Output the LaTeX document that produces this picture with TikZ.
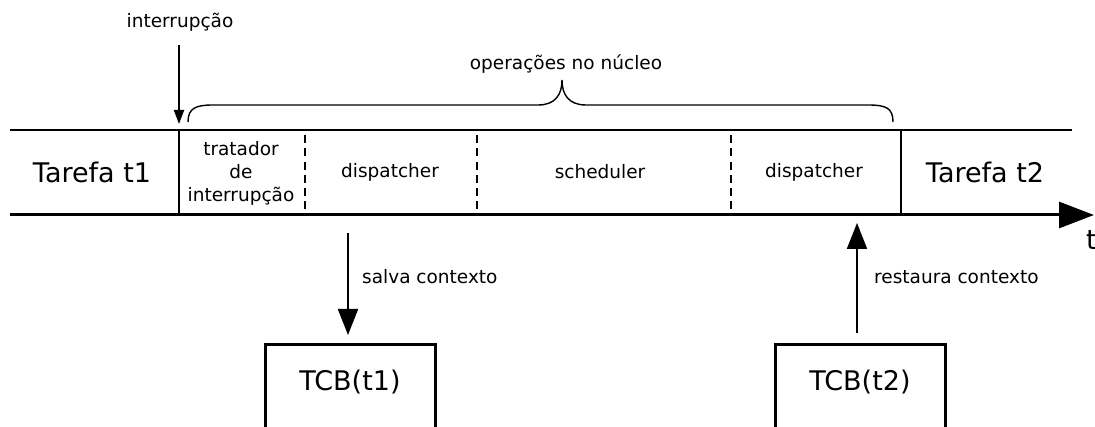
\documentclass[tikz,border=0pt]{standalone}
\usepackage{fontspec}
\setmainfont{DejaVu Sans}
\usetikzlibrary{arrows.meta}
\begin{document}
\begin{tikzpicture}[x=1pt,y=-1pt,
  small/.style={font=\fontsize{18.5}{23}\selectfont, inner sep=0pt},
  big/.style={font=\fontsize{27}{32}\selectfont, inner sep=0pt},
  segline/.style={line width=2pt, dash pattern=on 8pt off 5.3pt},
  tcbbox/.style={draw, line width=3pt, anchor=north, minimum width=170pt, minimum height=120pt},
  bigarrow/.style={line width=2pt, -{Triangle[length=26pt,width=20pt]}},
  smallarrow/.style={line width=2pt, -{Triangle[length=14pt,width=10pt]}}]
\useasboundingbox (0,0) rectangle (1095,427);

% timeline frame
\coordinate (tl) at (10,130);
\coordinate (ks) at (179,130);
\coordinate (ke) at (901,130);
\coordinate (tr) at (1072,130);
\coordinate (bl) at (10,215);
\coordinate (kbs) at (179,215);
\coordinate (kbe) at (901,215);
\coordinate (axisend) at (1094,215);
\draw[line width=1.3pt] (tl) -- (ks);
\draw[line width=2.2pt] (ks) -- (ke);
\draw[line width=1.3pt] (ke) -- (tr);
\draw[line width=3pt, -{Triangle[length=35pt,width=26pt]}] (bl) -- (axisend);
\draw[line width=2.7pt] (ks) -- (kbs);
\draw[line width=2pt] (ke) -- (kbe);

% dashed separators between kernel phases
\foreach \x/\n in {305/a,477/b,731/c} {
  \coordinate (d\n top) at (\x,135);
  \coordinate (d\n bot) at (\x,214);
  \draw[segline] (d\n top) -- (d\n bot);
}

% phase labels
\node[big] (t1) at (92,172) {Tarefa t1};
\node[big] (t2) at (985,172) {Tarefa t2};
\node[small, align=center] (trat) at (241,173) {tratador\\de\\interrupção};
\node[small] (disp1) at (390,172) {dispatcher};
\node[small] (sched) at (600,172) {scheduler};
\node[small] (disp2) at (814,172) {dispatcher};
\node[big, anchor=west] (tlabel) at (1086,240) {t};

% interrupt arrow
\node[small] (intr) at (180,22) {interrupção};
\coordinate (intrtip) at (179,124);
\draw[smallarrow] (179,45) -- (intrtip);

% brace over kernel operations
\coordinate (brl) at (188,122);
\coordinate (brr) at (893,122);
\coordinate (brtip) at (562,80);
\draw[line width=1.4pt] (brl) .. controls (188,108) and (196,105) .. (213,105)
  -- (538,105) .. controls (555,105) and (562,95) .. (brtip)
  .. controls (562,95) and (569,105) .. (586,105)
  -- (868,105) .. controls (886,105) and (893,108) .. (brr);
\node[small] (ops) at (566,64) {operações no núcleo};

% task control blocks
\node[tcbbox] (tcb1) at (350,343) {};
\node[big] (tcb1lbl) at (350,382) {TCB(t1)};
\node[tcbbox] (tcb2) at (860,343) {};
\node[big] (tcb2lbl) at (860,382) {TCB(t2)};

% context save / restore
\coordinate (save) at (348,233);
\draw[bigarrow, shorten >=8pt] (save) -- (save |- tcb1.north);
\node[small, anchor=west] (savelbl) at (362,277) {salva contexto};
\coordinate (rest) at (857,223);
\draw[bigarrow, shorten <=10pt] (rest |- tcb2.north) -- (rest);
\node[small, anchor=west] (restlbl) at (874,277) {restaura contexto};
\end{tikzpicture}
\end{document}
